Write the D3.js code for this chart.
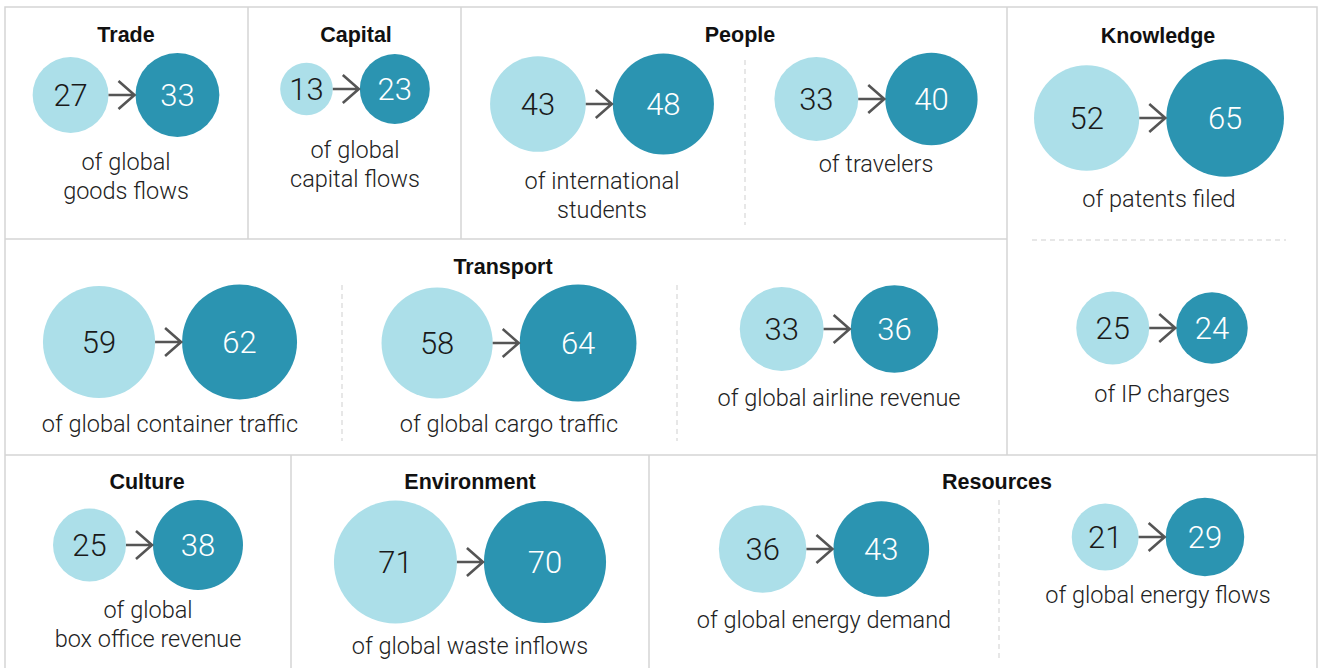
<!DOCTYPE html>
<html>
<head>
<meta charset="utf-8">
<script src="https://cdn.jsdelivr.net/npm/d3@7"></script>
<style>
  body { margin: 0; background: #fff; }
  svg { display: block; font-family: Roboto, "Liberation Sans", sans-serif; }
  .title { font-family: "Liberation Sans", Arial, sans-serif; font-weight: 700; font-size: 21.5px; fill: #111; }
  .num { font-weight: 300; font-size: 31px; }
  .label { font-weight: 300; font-size: 23.5px; fill: #222; }
</style>
</head>
<body>
<div id="chart"></div>
<script>
var width = 1325,
  height = 668;

// data
var titles = ["Trade", "Capital", "People", "Knowledge", "Transport", "Culture", "Environment", "Resources"];
var metricGroup = [0, 1, 2, 2, 3, 3, 4, 4, 4, 5, 6, 7, 7];
var metricLabels = [
  ["of global", "goods flows"],
  ["of global", "capital flows"],
  ["of international", "students"],
  ["of travelers"],
  ["of patents filed"],
  ["of IP charges"],
  ["of global container traffic"],
  ["of global cargo traffic"],
  ["of global airline revenue"],
  ["of global", "box office revenue"],
  ["of global waste inflows"],
  ["of global energy demand"],
  ["of global energy flows"]
];
var shareBefore = [27, 13, 43, 33, 52, 25, 59, 58, 33, 25, 71, 36, 21];
var shareAfter = [33, 23, 48, 40, 65, 24, 62, 64, 36, 38, 70, 43, 29];

// layout
var titlePos = [[126, 42], [356, 42], [740, 42], [1158, 43], [503, 274], [147, 489], [470, 489], [997, 489]];
var pairPos = [[126, 95], [355, 89], [602, 104], [876, 99], [1159, 118], [1162, 328],
  [170, 342], [509, 343], [839, 329], [148, 545], [470, 562], [824, 549], [1158, 537]];
var labelY = [170, 158, 189, 172, 207, 402, 432, 432, 406, 618, 654, 628, 603];
var gridLines = [
  [[5, 668], [5, 7], [1317, 7], [1317, 668]],
  [[5, 239], [1007, 239]],
  [[5, 455], [1317, 455]],
  [[248, 7], [248, 239]],
  [[461, 7], [461, 239]],
  [[1007, 7], [1007, 455]],
  [[291, 455], [291, 668]],
  [[649, 455], [649, 668]]
];
var dashLines = [
  [[745, 60], [745, 225]],
  [[1032, 240], [1286, 240]],
  [[342, 285], [342, 441]],
  [[677, 285], [677, 441]],
  [[999, 500], [999, 660]]
];

var lightBlue = "#acdfe9",
  darkBlue = "#2b94b1",
  gap = 27;

var r = d3.scaleSqrt()
  .domain([0, 71])
  .range([0, 61.5]);

var svg = d3.select("#chart").append("svg")
  .attr("width", width)
  .attr("height", height);

var line = d3.line();

svg.selectAll(".grid")
  .data(gridLines)
  .enter().append("path")
  .attr("class", "grid")
  .attr("d", line)
  .attr("fill", "none")
  .attr("stroke", "#d5d5d5")
  .attr("stroke-width", 1.5);

svg.selectAll(".dash")
  .data(dashLines)
  .enter().append("path")
  .attr("class", "dash")
  .attr("d", line)
  .attr("fill", "none")
  .attr("stroke", "#cfcfcf")
  .attr("stroke-width", 1)
  .attr("stroke-dasharray", "5,4");

svg.selectAll(".title")
  .data(titles)
  .enter().append("text")
  .attr("class", "title")
  .attr("x", function(d, i) { return titlePos[i][0]; })
  .attr("y", function(d, i) { return titlePos[i][1]; })
  .attr("text-anchor", "middle")
  .text(function(d) { return d; });

var pairs = shareBefore.map(function(v, i) {
  var r1 = r(v), r2 = r(shareAfter[i]);
  var total = 2 * r1 + gap + 2 * r2;
  var x0 = pairPos[i][0] - total / 2;
  return {
    before: v,
    after: shareAfter[i],
    label: metricLabels[i],
    group: metricGroup[i],
    cy: pairPos[i][1],
    cx: pairPos[i][0],
    ly: labelY[i],
    r1: r1,
    r2: r2,
    x1: x0 + r1,
    x2: x0 + 2 * r1 + gap + r2
  };
});

var g = svg.selectAll(".pair")
  .data(pairs)
  .enter().append("g")
  .attr("class", "pair");

g.append("circle")
  .attr("cx", function(d) { return d.x1; })
  .attr("cy", function(d) { return d.cy; })
  .attr("r", function(d) { return d.r1; })
  .attr("fill", lightBlue);

g.append("circle")
  .attr("cx", function(d) { return d.x2; })
  .attr("cy", function(d) { return d.cy; })
  .attr("r", function(d) { return d.r2; })
  .attr("fill", darkBlue);

// arrow between the two circles
g.append("path")
  .attr("d", function(d) {
    var a = d.x1 + d.r1, b = d.x2 - d.r2, y = d.cy;
    return "M" + a + "," + y + "H" + (b - 1) +
      "M" + (b - 17) + "," + (y - 14) + "L" + (b - 1) + "," + y + "L" + (b - 17) + "," + (y + 14);
  })
  .attr("fill", "none")
  .attr("stroke", "#555")
  .attr("stroke-width", 2.6);

g.append("text")
  .attr("class", "num")
  .attr("x", function(d) { return d.x1; })
  .attr("y", function(d) { return d.cy + 11; })
  .attr("text-anchor", "middle")
  .attr("fill", "#1a1a1a")
  .text(function(d) { return d.before; });

g.append("text")
  .attr("class", "num")
  .attr("x", function(d) { return d.x2; })
  .attr("y", function(d) { return d.cy + 11; })
  .attr("text-anchor", "middle")
  .attr("fill", "#fff")
  .text(function(d) { return d.after; });

g.each(function(d) {
  d3.select(this).selectAll(".label")
    .data(d.label)
    .enter().append("text")
    .attr("class", "label")
    .attr("x", d.cx)
    .attr("y", function(t, j) { return d.ly + j * 29; })
    .attr("text-anchor", "middle")
    .text(function(t) { return t; });
});
</script>
</body>
</html>
